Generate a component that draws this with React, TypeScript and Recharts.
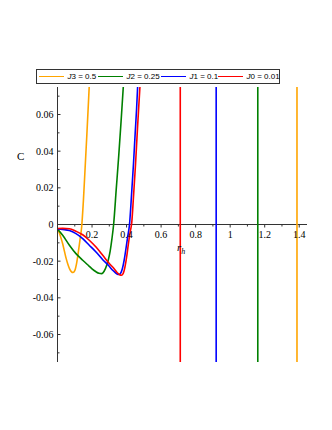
import React from 'react';
import { LineChart, Line, XAxis, YAxis, ReferenceLine, ReferenceDot } from 'recharts';

// legend / series
const couplingIndex = ['3', '2', '1', '0'];
const couplingValue = ['0.5', '0.25', '0.1', '0.01'];
const seriesColors = ['#FFA500', '#008000', '#0000FF', '#FF0000'];

// r_h samples and heat capacity C for each curve
const rJ3 = [0, 0.01, 0.02, 0.03, 0.04, 0.05, 0.06, 0.07, 0.08, 0.09, 0.1, 0.11, 0.12, 0.13, 0.14, 0.15, 0.16, 0.17, 0.18, 0.19];
const cJ3 = [-0.0025, -0.0045, -0.0073, -0.0105, -0.0145, -0.0185, -0.0217, -0.0242, -0.0257, -0.0262, -0.0252, -0.0215, -0.0155, -0.0085, -0.0012, 0.013, 0.031, 0.049, 0.068, 0.088];

const rJ2 = [0, 0.03, 0.069, 0.107, 0.146, 0.184, 0.2, 0.223, 0.24, 0.256, 0.27, 0.285, 0.295, 0.305, 0.315, 0.325, 0.34, 0.355, 0.368, 0.381, 0.39];
const cJ2 = [-0.0025, -0.0059, -0.0113, -0.0159, -0.0195, -0.0228, -0.0242, -0.0258, -0.0266, -0.0268, -0.0255, -0.0222, -0.019, -0.0145, -0.008, 0, 0.019, 0.038, 0.056, 0.075, 0.09];

const rJ1 = [0, 0.03, 0.069, 0.107, 0.146, 0.184, 0.223, 0.262, 0.3, 0.318, 0.333, 0.345, 0.356, 0.366, 0.376, 0.386, 0.396, 0.406, 0.417, 0.43, 0.44, 0.45, 0.458, 0.464, 0.47];
const cJ1 = [-0.0024, -0.0027, -0.0033, -0.005, -0.0077, -0.0113, -0.015, -0.0192, -0.0228, -0.0248, -0.0261, -0.027, -0.0273, -0.0265, -0.024, -0.0195, -0.0135, -0.007, 0, 0.018, 0.033, 0.05, 0.063, 0.075, 0.087];

const rJ0 = [0, 0.03, 0.069, 0.107, 0.146, 0.184, 0.223, 0.262, 0.3, 0.327, 0.345, 0.36, 0.37, 0.38, 0.39, 0.4, 0.41, 0.42, 0.43, 0.44, 0.452, 0.463, 0.471, 0.478, 0.485];
const cJ0 = [-0.0022, -0.0021, -0.0023, -0.0037, -0.0056, -0.0086, -0.0123, -0.0168, -0.0213, -0.024, -0.0262, -0.0274, -0.0277, -0.0268, -0.0235, -0.018, -0.011, -0.0045, 0.001, 0.015, 0.033, 0.052, 0.065, 0.076, 0.088];

// divergences of C (vertical lines)
const asymptotes = [1.387, 1.16, 0.919, 0.711];

// axes
const xMajorTicks = [0.2, 0.4, 0.6, 0.8, 1, 1.2, 1.4];
const xMajorLabels = ['0.2', '0.4', '0.6', '0.8', '1', '1.2', '1.4'];
const xMinorTicks = [0.1, 0.3, 0.5, 0.7, 0.9, 1.1, 1.3];
const yMajorTicks = [-0.06, -0.04, -0.02, 0, 0.02, 0.04, 0.06];
const yMajorLabels = ['-0.06', '-0.04', '-0.02', '0', '0.02', '0.04', '0.06'];
const yMinorTicks = [-0.07, -0.05, -0.03, -0.01, 0.01, 0.03, 0.05, 0.07];

const toPoints = (r: number[], c: number[]) => r.map((x, i) => ({ r: x, C: c[i] }));
const curves = [toPoints(rJ3, cJ3), toPoints(rJ2, cJ2), toPoints(rJ1, cJ1), toPoints(rJ0, cJ0)];

const axisColor = '#333';
const serif = '"Liberation Serif", "Times New Roman", serif';

const YTick = ({ x, y, payload }: any) => {
  const i = yMajorTicks.indexOf(payload.value);
  return (
    <g>
      <line x1={x} x2={x + (i >= 0 ? 3 : 2)} y1={y} y2={y} stroke={axisColor} />
      {i >= 0 && (
        <text x={x - 4} y={y + 3.5} textAnchor="end" fontFamily={serif} fontSize={10} fill="#000">
          {yMajorLabels[i]}
        </text>
      )}
    </g>
  );
};

const XTick = ({ cx, cy, label }: any) => (
  <g>
    <line x1={cx} x2={cx} y1={cy} y2={cy + (label ? 3 : 2)} stroke={axisColor} />
    {label && (
      <text x={cx} y={cy + 13} textAnchor="middle" fontFamily={serif} fontSize={10} fill="#000">
        {label}
      </text>
    )}
  </g>
);

const legendX = [0, 59, 122, 179];

export default function App() {
  return (
    <div style={{ position: 'absolute', left: 0, top: 0, width: 332, height: 430, background: '#fff' }}>
      <LineChart width={332} height={430} margin={{ top: 87, right: 25, bottom: 68, left: 37.5 }}>
        <XAxis dataKey="r" type="number" domain={[0, 1.445]} allowDataOverflow hide />
        <YAxis
          type="number"
          domain={[-0.075, 0.075]}
          allowDataOverflow
          width={20}
          ticks={[...yMajorTicks, ...yMinorTicks].sort((a, b) => a - b)}
          tick={<YTick />}
          tickSize={0}
          tickMargin={0}
          tickLine={false}
          axisLine={{ stroke: axisColor }}
          interval={0}
        />
        <ReferenceLine y={0} stroke={axisColor} />
        {asymptotes.map((v, i) => (
          <ReferenceLine key={`a${i}`} x={v} stroke={seriesColors[i]} strokeWidth={1.6} />
        ))}
        {curves.map((d, i) => (
          <Line
            key={couplingIndex[i]}
            data={d}
            dataKey="C"
            type="monotone"
            stroke={seriesColors[i]}
            strokeWidth={1.6}
            dot={false}
            isAnimationActive={false}
          />
        ))}
        {xMajorTicks.map((t, i) => (
          <ReferenceDot key={`xm${t}`} x={t} y={0} r={0} shape={(p: any) => <XTick {...p} label={xMajorLabels[i]} />} />
        ))}
        {xMinorTicks.map((t) => (
          <ReferenceDot key={`xn${t}`} x={t} y={0} r={0} shape={(p: any) => <XTick {...p} />} />
        ))}
      </LineChart>

      <div
        style={{
          position: 'absolute',
          left: 35.5,
          top: 69,
          width: 242,
          height: 13,
          border: '1px solid #333',
          fontFamily: '"Liberation Sans", Arial, sans-serif',
          fontSize: 8,
          color: '#000',
        }}
      >
        {couplingIndex.map((k, i) => (
          <div key={k} style={{ position: 'absolute', left: legendX[i] + 2, top: 0, height: 13, display: 'flex', alignItems: 'center', whiteSpace: 'nowrap' }}>
            <span style={{ display: 'inline-block', width: 25, height: 0, borderTop: `1.5px solid ${seriesColors[i]}`, marginRight: 4 }} />
            <span>
              <i>J</i>
              {k} = {couplingValue[i]}
            </span>
          </div>
        ))}
      </div>

      <div style={{ position: 'absolute', left: 17, top: 150, fontFamily: serif, fontSize: 11 }}>C</div>
      <div style={{ position: 'absolute', left: 177, top: 241, fontFamily: serif, fontSize: 11, fontStyle: 'italic' }}>
        r<sub style={{ fontSize: 8, verticalAlign: '-3px' }}>h</sub>
      </div>
    </div>
  );
}
